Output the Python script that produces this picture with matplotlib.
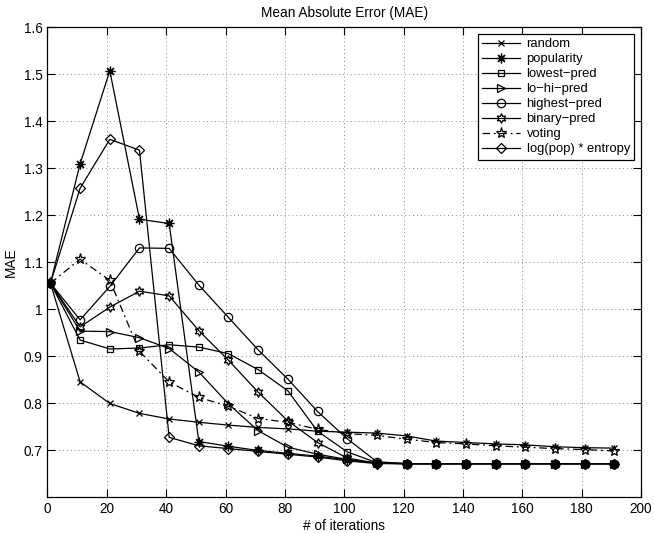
import matplotlib
matplotlib.use('Agg')
import matplotlib.pyplot as plt

plt.rcParams['font.family'] = ['Liberation Sans', 'DejaVu Sans']
plt.rcParams['font.size'] = 9.8

iterations = [1, 11, 21, 31, 41, 51, 61, 71, 81, 91, 101, 111, 121, 131, 141, 151, 161, 171, 181, 191]

random_mae = [1.055, 0.845, 0.799, 0.778, 0.766, 0.759, 0.753, 0.748, 0.745, 0.740,
              0.738, 0.736, 0.730, 0.719, 0.716, 0.713, 0.711, 0.707, 0.705, 0.704]
popularity = [1.055, 1.309, 1.507, 1.191, 1.182, 0.718, 0.708, 0.699, 0.693, 0.687,
              0.679, 0.672, 0.671, 0.671, 0.671, 0.671, 0.671, 0.671, 0.671, 0.671]
lowest_pred = [1.055, 0.934, 0.915, 0.917, 0.924, 0.919, 0.905, 0.871, 0.826, 0.740,
               0.696, 0.673, 0.671, 0.671, 0.671, 0.671, 0.671, 0.671, 0.671, 0.671]
lo_hi_pred = [1.055, 0.953, 0.952, 0.939, 0.916, 0.866, 0.798, 0.741, 0.706, 0.691,
              0.680, 0.672, 0.671, 0.671, 0.671, 0.671, 0.671, 0.671, 0.671, 0.671]
highest_pred = [1.055, 0.977, 1.048, 1.130, 1.129, 1.051, 0.982, 0.913, 0.851, 0.782,
                0.724, 0.675, 0.671, 0.671, 0.671, 0.671, 0.671, 0.671, 0.671, 0.671]
binary_pred = [1.055, 0.962, 1.004, 1.038, 1.028, 0.954, 0.891, 0.823, 0.762, 0.716,
               0.683, 0.672, 0.671, 0.671, 0.671, 0.671, 0.671, 0.671, 0.671, 0.671]
voting = [1.055, 1.106, 1.061, 0.910, 0.845, 0.812, 0.793, 0.767, 0.759, 0.744,
          0.735, 0.731, 0.723, 0.716, 0.713, 0.709, 0.706, 0.703, 0.701, 0.698]
log_entropy = [1.055, 1.257, 1.361, 1.338, 0.727, 0.709, 0.703, 0.697, 0.691, 0.685,
               0.677, 0.671, 0.671, 0.671, 0.671, 0.671, 0.671, 0.671, 0.671, 0.671]

series = [
    ('random', random_mae, 'x', 5, '-'),
    ('popularity', popularity, (8, 2, 0), 7, '-'),
    ('lowest\u2212pred', lowest_pred, 's', 5, '-'),
    ('lo\u2212hi\u2212pred', lo_hi_pred, '>', 6, '-'),
    ('highest\u2212pred', highest_pred, 'o', 6, '-'),
    ('binary\u2212pred', binary_pred, (6, 1, 0), 7, '-'),
    ('voting', voting, '*', 8, (0, (6, 3, 1.5, 3))),
    ('log(pop) * entropy', log_entropy, 'D', 5, '-'),
]

fig = plt.figure(figsize=(6.54, 5.33), dpi=100)
ax = fig.add_axes([0.0726, 0.0675, 0.9075, 0.8818])

for label, vals, mk, ms, ls in series:
    ax.plot(iterations, vals, color='black', linestyle=ls, linewidth=0.9,
            marker=mk, markersize=ms, markerfacecolor='none',
            markeredgecolor='black', markeredgewidth=0.9, label=label)

ax.set_xlim(0, 200)
ax.set_ylim(0.6, 1.6)
ax.set_xticks(range(0, 201, 20))
yt = [0.7, 0.8, 0.9, 1.0, 1.1, 1.2, 1.3, 1.4, 1.5, 1.6]
ax.set_yticks(yt)
ax.set_yticklabels(['%g' % v for v in yt])
ax.grid(True, color='#888888', linestyle=(0, (1, 3)), linewidth=0.7)
ax.tick_params(direction='in', top=True, right=True, length=6, width=0.8)
for s in ax.spines.values():
    s.set_linewidth(0.9)

ax.set_xlabel('# of iterations', labelpad=2)
ax.set_ylabel('MAE', labelpad=4)
ax.set_title('Mean Absolute Error (MAE)', fontsize=9.8, pad=7)

leg = ax.legend(loc='upper right', fancybox=False, edgecolor='black', framealpha=1,
                fontsize=9.4, handlelength=2.9, handletextpad=0.5, labelspacing=0.22,
                borderpad=0.35, borderaxespad=0.5)
leg.get_frame().set_linewidth(0.9)

fig.savefig('out.png', dpi=100)
